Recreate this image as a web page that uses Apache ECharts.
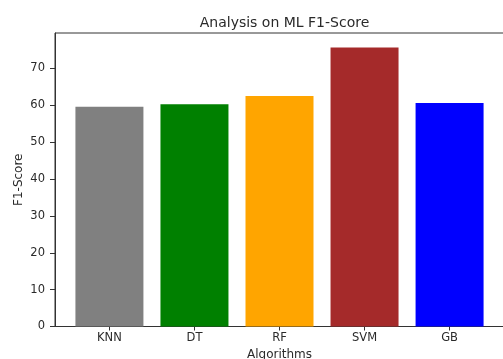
<!DOCTYPE html>
<html>
<head>
<meta charset="utf-8">
<script src="https://cdn.jsdelivr.net/npm/echarts@6/dist/echarts.min.js"></script>
<style>
  html, body { margin: 0; padding: 0; background: #fff; }
  #chart { width: 503px; height: 359px; }
</style>
</head>
<body>
<div id="chart"></div>
<script>
// F1-scores per algorithm
const algorithms = ['KNN', 'DT', 'RF', 'SVM', 'GB'];
const f1Scores = [59.6, 60.3, 62.5, 75.7, 60.6];
const barColors = ['#808080', '#008000', '#FFA500', '#A52A2A', '#0000FF'];
const yTicks = [0, 10, 20, 30, 40, 50, 60, 70];

const positions = algorithms.map((_, i) => i);
const textColor = '#2a2a2a';
const font = 'DejaVu Sans';

const chart = echarts.init(document.getElementById('chart'), null, { renderer: 'canvas' });

chart.setOption({
  animation: false,
  backgroundColor: '#fff',
  title: {
    text: 'Analysis on ML F1-Score',
    left: 279.5,
    textAlign: 'center',
    top: 11,
    textStyle: { fontFamily: font, fontSize: 14, fontWeight: 'normal', color: textColor }
  },
  grid: {
    left: 55, right: -1, top: 33, bottom: 32.5,
    outerBoundsMode: 'none',
    containLabel: false,
    show: true, borderColor: '#333', borderWidth: 1, backgroundColor: 'transparent'
  },
  xAxis: {
    type: 'value',
    min: -0.64,
    max: algorithms.length - 1 + 0.64,
    name: 'Algorithms',
    nameLocation: 'middle',
    nameGap: 22,
    nameMoveOverlap: false,
    nameTextStyle: { fontFamily: font, fontSize: 12, color: textColor },
    splitLine: { show: false },
    axisLine: { show: true, onZero: false, lineStyle: { color: '#333' } },
    axisTick: { show: true, length: 4, customValues: positions, lineStyle: { color: '#333' } },
    axisLabel: {
      customValues: positions,
      margin: 6,
      fontFamily: font, fontSize: 11.5, color: textColor,
      formatter: v => algorithms[Math.round(v)]
    }
  },
  yAxis: {
    type: 'value',
    min: 0,
    max: 79.6,
    name: 'F1-Score',
    nameLocation: 'middle',
    nameRotate: 90,
    nameGap: 30,
    nameMoveOverlap: false,
    nameTextStyle: { fontFamily: font, fontSize: 12, color: textColor },
    splitLine: { show: false },
    axisLine: { show: true, onZero: false, lineStyle: { color: '#333' } },
    axisTick: { show: true, length: 5, customValues: yTicks, lineStyle: { color: '#333' } },
    axisLabel: {
      customValues: yTicks,
      margin: 10,
      fontFamily: font, fontSize: 11.5, color: textColor
    }
  },
  series: [{
    type: 'bar',
    barWidth: 68,
    data: f1Scores.map((v, i) => ({
      value: [positions[i], v],
      itemStyle: { color: barColors[i] }
    }))
  }]
});
</script>
</body>
</html>
